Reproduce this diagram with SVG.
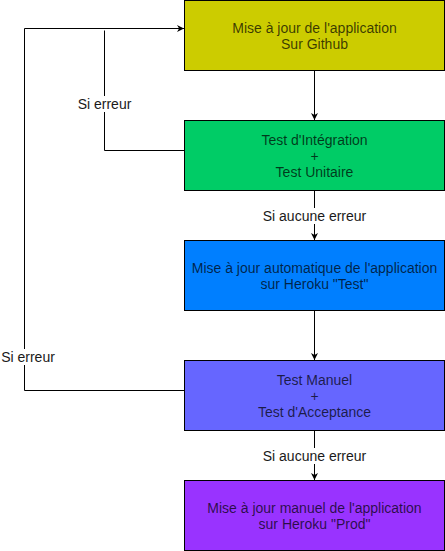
<svg xmlns="http://www.w3.org/2000/svg" width="445" height="551" viewBox="0 0 445 551">
<style>
.box{stroke:#000;stroke-width:1}
.t{font-family:"Liberation Sans",Arial,sans-serif;font-size:14px;text-anchor:middle;fill:#000;fill-opacity:0.72}
.lbl{font-family:"Liberation Sans",Arial,sans-serif;font-size:14px;text-anchor:middle;fill:#1a1a1a}
.e{fill:none;stroke:#000;stroke-width:1}
.bg{fill:#fff}
</style>
<defs>
<marker id="arr" viewBox="0 0 10 10" refX="10" refY="5" markerWidth="7" markerHeight="7" markerUnits="userSpaceOnUse" orient="auto">
<path d="M0,0 L10,5 L0,10 L3,5 Z" fill="#000"/>
</marker>
</defs>
<rect width="445" height="551" fill="#fff"/>
<g id="connectors">
<path class="e" d="M314.5,70.5 V120" marker-end="url(#arr)"/>
<path class="e" d="M314.5,190.5 V240" marker-end="url(#arr)"/>
<path class="e" d="M314.5,310.5 V360" marker-end="url(#arr)"/>
<path class="e" d="M314.5,430.5 V480" marker-end="url(#arr)"/>
<path class="e" d="M184.5,150.5 H104.5 V30.5"/>
<path class="e" d="M184.5,390.5 H24.5 V28.5 H184" marker-end="url(#arr)"/>
<rect class="bg" x="78" y="96" width="53" height="16"/>
<text class="lbl" x="104.5" y="109">Si erreur</text>
<rect class="bg" x="1" y="349" width="54" height="16"/>
<text class="lbl" x="28" y="361.5">Si erreur</text>
<rect class="bg" x="262" y="208" width="105" height="16"/>
<text class="lbl" x="314.5" y="220.5">Si aucune erreur</text>
<rect class="bg" x="262" y="448" width="105" height="16"/>
<text class="lbl" x="314.5" y="460.5">Si aucune erreur</text>
</g>
<g id="node1">
<rect class="box" x="184.5" y="0.5" width="260" height="70" fill="#CCCC00"/>
<text class="t" x="314.5" y="32.5">Mise à jour de l'application</text>
<text class="t" x="314.5" y="48.5">Sur Github</text>
</g>
<g id="node2">
<rect class="box" x="184.5" y="120.5" width="260" height="70" fill="#00CC66"/>
<text class="t" x="314.5" y="144.5">Test d'Intégration</text>
<text class="t" x="314.5" y="160.5">+</text>
<text class="t" x="314.5" y="176.5">Test Unitaire</text>
</g>
<g id="node3">
<rect class="box" x="184.5" y="240.5" width="260" height="70" fill="#007FFF"/>
<text class="t" x="314.5" y="272.5">Mise à jour automatique de l'application</text>
<text class="t" x="314.5" y="288.5">sur Heroku "Test"</text>
</g>
<g id="node4">
<rect class="box" x="184.5" y="360.5" width="260" height="70" fill="#6666FF"/>
<text class="t" x="314.5" y="384.5">Test Manuel</text>
<text class="t" x="314.5" y="400.5">+</text>
<text class="t" x="314.5" y="416.5">Test d'Acceptance</text>
</g>
<g id="node5">
<rect class="box" x="184.5" y="480.5" width="260" height="70" fill="#9933FF"/>
<text class="t" x="314.5" y="512.5">Mise à jour manuel de l'application</text>
<text class="t" x="314.5" y="528.5">sur Heroku "Prod"</text>
</g>
</svg>
